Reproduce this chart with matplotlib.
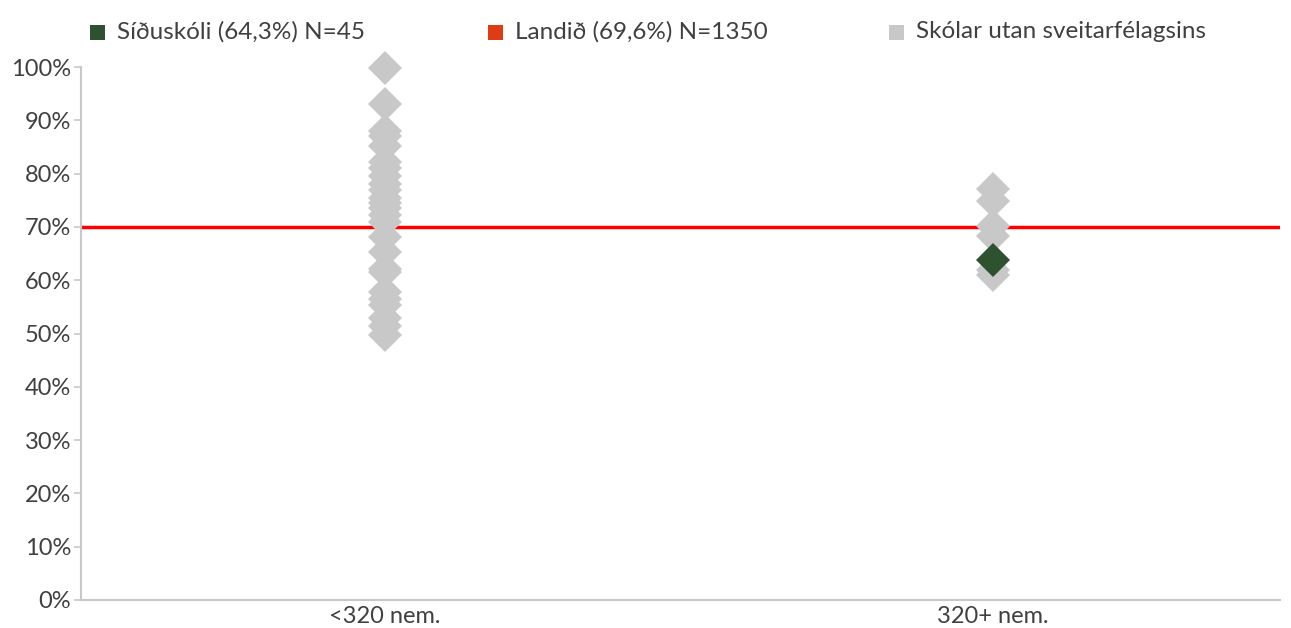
import matplotlib
matplotlib.use("Agg")
import matplotlib.pyplot as plt
from matplotlib.patches import Rectangle
from matplotlib.ticker import PercentFormatter

plt.rcParams['font.family'] = ['Lato', 'DejaVu Sans']

categories = ["<320 nem.", "320+ nem."]
other_small = [99.8, 93.1, 88.0, 87.0, 85.2, 82.2, 81.0, 79.5, 78.0, 77.0, 75.5,
               74.5, 73.5, 72.2, 71.0, 68.1, 65.3, 62.1, 61.5, 57.8, 56.5, 55.3,
               53.0, 51.5, 49.7]
other_large = [77.2, 74.8, 70.2, 68.2, 62.0, 61.0]
school_value = 63.7
school_cat = 1
national = 70.0
legend_labels = ["Síðuskóli (64,3%) N=45", "Landið (69,6%) N=1350", "Skólar utan sveitarfélagsins"]

gray = "#C8C8C8"
green = "#2E5130"
orange = "#E03C14"
red = "#FF0000"
text_col = "#404040"

W, H = 1291, 628
fig = plt.figure(figsize=(W / 100, H / 100), dpi=100)
ax_l, ax_r, ax_t, ax_b = 81, 1280, 67, 600
ax = fig.add_axes([ax_l / W, (H - ax_b) / H, (ax_r - ax_l) / W, (ax_b - ax_t) / H])

ms = 17.5
ax.plot([0] * len(other_small), other_small, linestyle='none', marker='D', ms=ms,
        color=gray, markeredgewidth=0, zorder=3, clip_on=False)
ax.plot([1] * len(other_large), other_large, linestyle='none', marker='D', ms=ms,
        color=gray, markeredgewidth=0, zorder=3, clip_on=False)
ax.axhline(national, color=red, lw=2.5, zorder=2)
ax.plot([school_cat], [school_value], linestyle='none', marker='D', ms=ms,
        color=green, markeredgewidth=0, zorder=4, clip_on=False)

# x mapping: category 0 at 385px, 1 at 993px
ppu = 993 - 385
ax.set_xlim((ax_l - 385) / ppu, (ax_r - 385) / ppu)
ax.set_ylim(0, 100)
ax.set_yticks(range(0, 101, 10))
ax.yaxis.set_major_formatter(PercentFormatter(decimals=0))
ax.set_xticks([0, 1])
ax.set_xticklabels(categories)

for s in ['top', 'right']:
    ax.spines[s].set_visible(False)
for s in ['left', 'bottom']:
    ax.spines[s].set_color(gray)
    ax.spines[s].set_linewidth(1.5)
ax.tick_params(axis='y', colors=gray, labelcolor=text_col, labelsize=17, length=5, width=1.2, pad=2)
ax.tick_params(axis='x', length=0, labelcolor=text_col, labelsize=17, pad=4)

# legend
leg_items = [(90, green, legend_labels[0]), (488, orange, legend_labels[1]), (889, gray, legend_labels[2])]
for x0, col, lab in leg_items:
    fig.patches.append(Rectangle((x0 / W, 1 - 40 / H), 15 / W, 15 / H, transform=fig.transFigure,
                                 facecolor=col, edgecolor='none'))
    fig.text((x0 + 27) / W, 1 - 32 / H, lab, fontsize=17.5, color=text_col, va='center', ha='left')

fig.savefig("out.png", dpi=100)
